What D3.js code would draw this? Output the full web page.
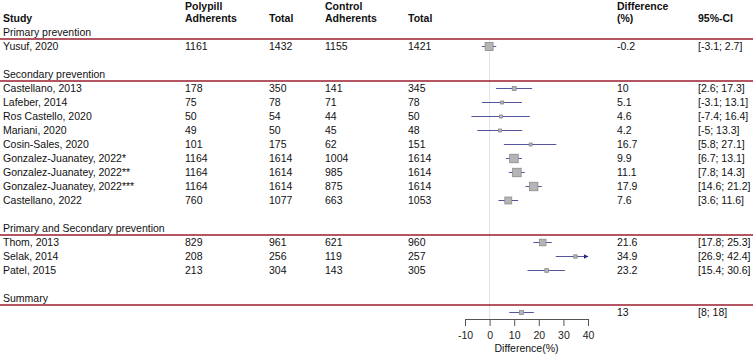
<!DOCTYPE html>
<html>
<head>
<meta charset="utf-8">
<script src="https://cdn.jsdelivr.net/npm/d3@7"></script>
<style>
  body { margin: 0; background: #fff; }
  text { font-family: "Liberation Sans", Arial, sans-serif; font-size: 10.5px; fill: #111; }
  .hdr { font-weight: bold; }
  .axis text { font-size: 10.5px; fill: #222; }
  .axis path, .axis line { stroke: #555; }
</style>
</head>
<body>
<svg id="chart" width="753" height="356"></svg>
<script>
let groups = ["Primary prevention", "Secondary prevention", "Primary and Secondary prevention", "Summary"];
let studies = ["Yusuf, 2020", "Castellano, 2013", "Lafeber, 2014", "Ros Castello, 2020", "Mariani, 2020",
  "Cosin-Sales, 2020", "Gonzalez-Juanatey, 2022*", "Gonzalez-Juanatey, 2022**", "Gonzalez-Juanatey, 2022***",
  "Castellano, 2022", "Thom, 2013", "Selak, 2014", "Patel, 2015"];
let studyGroup = [0, 1, 1, 1, 1, 1, 1, 1, 1, 1, 2, 2, 2];
let polyAdh = [1161, 178, 75, 50, 49, 101, 1164, 1164, 1164, 760, 829, 208, 213];
let polyTotal = [1432, 350, 78, 54, 50, 175, 1614, 1614, 1614, 1077, 961, 256, 304];
let ctrlAdh = [1155, 141, 71, 44, 45, 62, 1004, 985, 875, 663, 621, 119, 143];
let ctrlTotal = [1421, 345, 78, 50, 48, 151, 1614, 1614, 1614, 1053, 960, 257, 305];
let diff = [-0.2, 10, 5.1, 4.6, 4.2, 16.7, 9.9, 11.1, 17.9, 7.6, 21.6, 34.9, 23.2];
let ciLow = [-3.1, 2.6, -3.1, -7.4, -5, 5.8, 6.7, 7.8, 14.6, 3.6, 17.8, 26.9, 15.4];
let ciHigh = [2.7, 17.3, 13.1, 16.4, 13.3, 27.1, 13.1, 14.3, 21.2, 11.6, 25.3, 42.4, 30.6];
let summary = {diff: 13, lo: 8, hi: 18};
let xTicks = [-10, 0, 10, 20, 30, 40];

let svg = d3.select("#chart");
let width = 753;

// build row layout: header takes rows 0-1, each group label + studies + blank row
let rows = [];
let r = 2;
groups.forEach((g, gi) => {
  rows.push({type: "group", label: g, row: r});
  r++;
  studies.forEach((s, i) => {
    if (studyGroup[i] === gi) {
      rows.push({type: "study", label: s, row: r, pa: polyAdh[i], pt: polyTotal[i], ca: ctrlAdh[i], ct: ctrlTotal[i],
        diff: diff[i], lo: ciLow[i], hi: ciHigh[i], n: polyTotal[i] + ctrlTotal[i]});
      r++;
    }
  });
  if (gi === groups.length - 1) {
    rows.push({type: "summary", row: r, diff: summary.diff, lo: summary.lo, hi: summary.hi});
    r++;
  }
  r++;
});

let y = d3.scaleLinear().domain([0, 22]).range([4.5, 312.5]);
let x = d3.scaleLinear().domain([-10, 40]).range([465, 588]);
let sizeScale = d3.scaleSqrt().domain([0, d3.max(rows, d => d.n || 0)]).range([0, 8.5]);

let cols = {study: 3, pa: 185, pt: 269, ca: 325, ct: 408, diff: 617, ci: 698};

// headers
let headers = [
  {t: "Study", x: cols.study, row: 1},
  {t: "Polypill", x: cols.pa, row: 0}, {t: "Adherents", x: cols.pa, row: 1},
  {t: "Total", x: cols.pt, row: 1},
  {t: "Control", x: cols.ca, row: 0}, {t: "Adherents", x: cols.ca, row: 1},
  {t: "Total", x: cols.ct, row: 1},
  {t: "Difference", x: cols.diff, row: 0}, {t: "(%)", x: cols.diff, row: 1},
  {t: "95%-CI", x: cols.ci, row: 1}
];
svg.selectAll(".hdr").data(headers).enter().append("text")
  .attr("class", "hdr")
  .attr("x", d => d.x)
  .attr("y", d => d.row === 0 ? y(d.row) + 1.5 : y(d.row))
  .attr("dy", "0.35em")
  .text(d => d.t);

// zero reference line
svg.append("line")
  .attr("x1", x(0)).attr("x2", x(0))
  .attr("y1", y(2) + 7).attr("y2", 319)
  .attr("stroke", "#e2e2e2").attr("stroke-width", 1);

// group labels and red rules
let groupRows = rows.filter(d => d.type === "group");
svg.selectAll(".glabel").data(groupRows).enter().append("text")
  .attr("class", "glabel")
  .attr("x", cols.study)
  .attr("y", d => y(d.row))
  .attr("dy", "0.35em")
  .text(d => d.label);
svg.selectAll(".grule").data(groupRows).enter().append("line")
  .attr("class", "grule")
  .attr("x1", 0).attr("x2", width)
  .attr("y1", d => y(d.row) + 6.5).attr("y2", d => y(d.row) + 6.5)
  .attr("stroke", "#9b1c2e").attr("stroke-width", 1.5);

// study text columns
let studyRows = rows.filter(d => d.type === "study");
let fields = [
  ["study", d => d.label], ["pa", d => d.pa], ["pt", d => d.pt], ["ca", d => d.ca], ["ct", d => d.ct],
  ["diff", d => d.diff], ["ci", d => "[" + d.lo + "; " + d.hi + "]"]
];
fields.forEach(([key, fn]) => {
  svg.selectAll(".c-" + key).data(studyRows).enter().append("text")
    .attr("class", "c-" + key)
    .attr("x", cols[key])
    .attr("y", d => y(d.row))
    .attr("dy", "0.35em")
    .text(fn);
});

let sumRows = rows.filter(d => d.type === "summary");
svg.selectAll(".s-diff").data(sumRows).enter().append("text")
  .attr("x", cols.diff).attr("y", d => y(d.row)).attr("dy", "0.35em").text(d => d.diff);
svg.selectAll(".s-ci").data(sumRows).enter().append("text")
  .attr("x", cols.ci).attr("y", d => y(d.row)).attr("dy", "0.35em").text(d => "[" + d.lo + "; " + d.hi + "]");

// arrow marker for truncated CIs
svg.append("defs").append("marker")
  .attr("id", "arrow")
  .attr("viewBox", "0 0 10 10")
  .attr("refX", 9).attr("refY", 5)
  .attr("markerWidth", 5).attr("markerHeight", 5)
  .attr("orient", "auto")
  .append("path")
  .attr("d", "M0,0L10,5L0,10z")
  .attr("fill", "#2b2b85");

let lineColor = "#2b2b85";
let plotRows = studyRows.concat(sumRows);

svg.selectAll(".ci").data(plotRows).enter().append("line")
  .attr("class", "ci")
  .attr("x1", d => x(Math.max(d.lo, -10)))
  .attr("x2", d => x(Math.min(d.hi, 40)))
  .attr("y1", d => y(d.row)).attr("y2", d => y(d.row))
  .attr("stroke", lineColor).attr("stroke-width", 1)
  .attr("stroke-opacity", 0.8)
  .attr("marker-end", d => d.hi > 40 ? "url(#arrow)" : null);

svg.selectAll(".pt").data(plotRows).enter().append("rect")
  .attr("class", "pt")
  .each(function(d) {
    let s = d.type === "summary" ? 4 : Math.max(3, sizeScale(d.n));
    d3.select(this)
      .attr("x", x(d.diff) - s / 2)
      .attr("y", y(d.row) - s / 2)
      .attr("width", s).attr("height", s);
  })
  .attr("fill", "#b5b5b5")
  .attr("stroke", "#8a8a8a").attr("stroke-width", 0.8);

// x axis
let axis = svg.append("g")
  .attr("class", "axis")
  .attr("transform", "translate(0,319)")
  .call(d3.axisBottom(x).tickValues(xTicks).tickSize(7).tickSizeOuter(7).tickPadding(6)
    .tickFormat(d => String(d)));

svg.append("text")
  .attr("x", (x(-10) + x(40)) / 2)
  .attr("y", 348.5)
  .attr("dy", "0.35em")
  .attr("text-anchor", "middle")
  .text("Difference(%)");
</script>
</body>
</html>
